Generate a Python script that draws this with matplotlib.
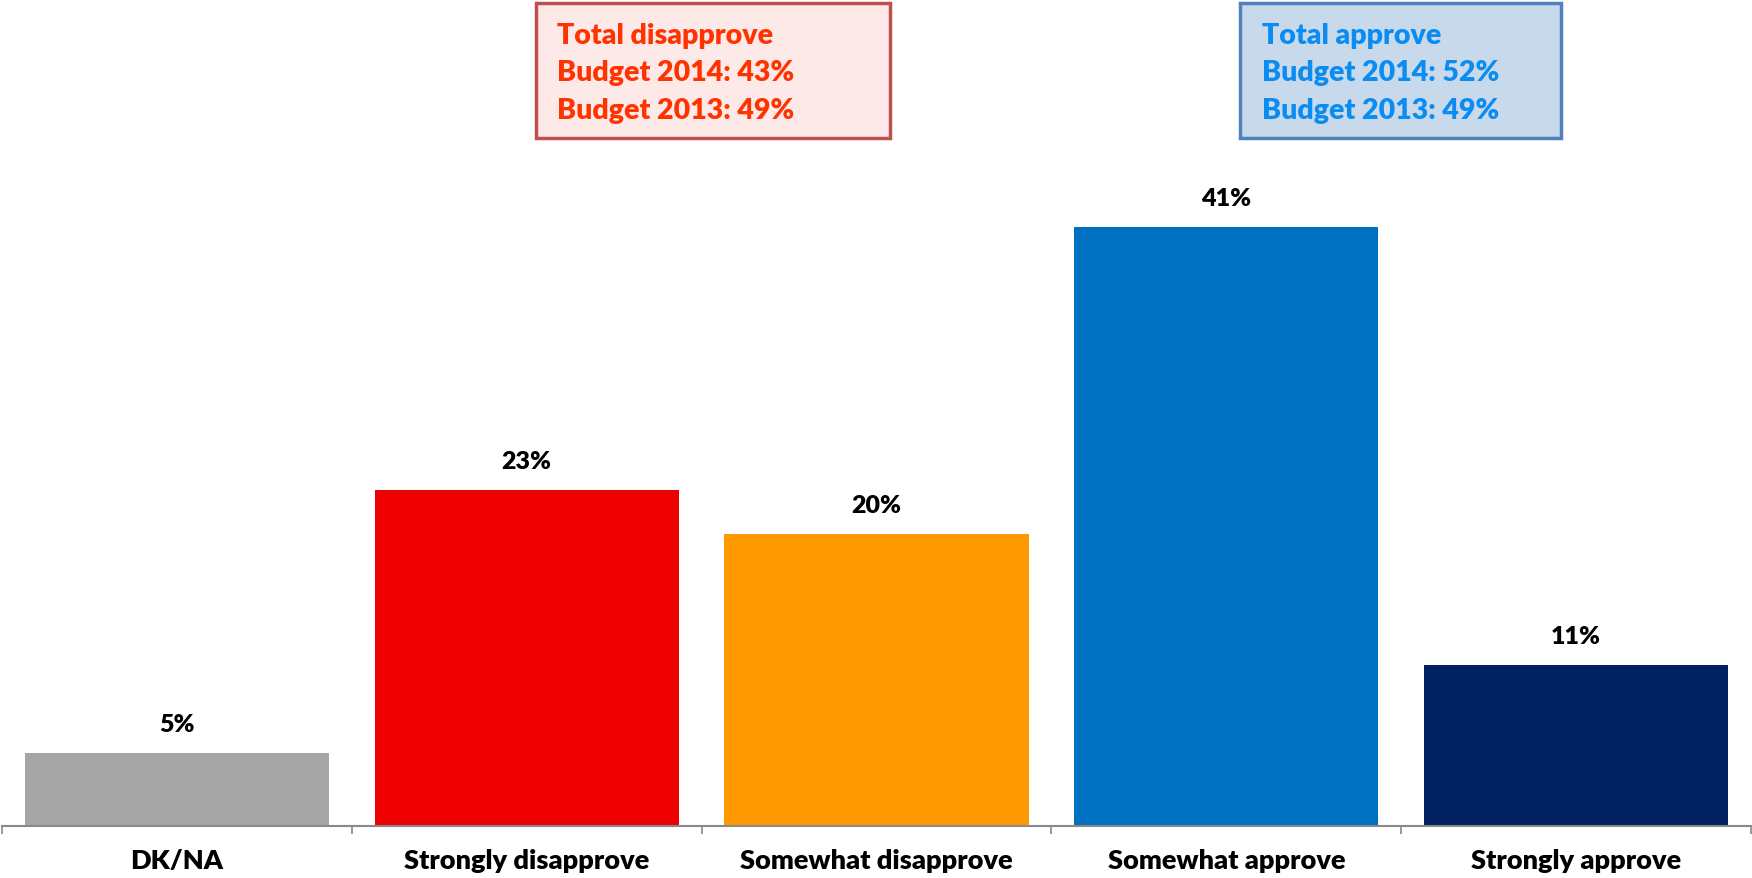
import matplotlib.pyplot as plt
from matplotlib.patches import Rectangle

# data
categories = ['DK/NA', 'Strongly disapprove', 'Somewhat disapprove', 'Somewhat approve', 'Strongly approve']
values = [5, 23, 20, 41, 11]
colors = ['#A6A6A6', '#EE0000', '#FF9900', '#0070C0', '#002060']

disapprove_lines = ['Total disapprove', 'Budget 2014: 43%', 'Budget 2013: 49%']
approve_lines = ['Total approve', 'Budget 2014: 52%', 'Budget 2013: 49%']

plt.rcParams['font.family'] = ['Lato', 'DejaVu Sans']

W, H = 1752, 879
fig = plt.figure(figsize=(W / 100, H / 100), dpi=100)

# axes in pixel coordinates (from top-left)
ax_left, ax_right, ax_bottom = 2, 1751, 827
ymax = 45
px_per_unit = 14.6
ax_top = ax_bottom - ymax * px_per_unit
ax = fig.add_axes([ax_left / W, (H - ax_bottom) / H, (ax_right - ax_left) / W, (ax_bottom - ax_top) / H])

x = range(len(categories))
bars = ax.bar(x, values, width=0.87, color=colors)
ax.set_xlim(-0.5, len(categories) - 0.5)
ax.set_ylim(0, ymax)

for b, v in zip(bars, values):
    ax.annotate(f'{v}%', (b.get_x() + b.get_width() / 2, v), xytext=(0, 13),
                textcoords='offset points', ha='center', va='bottom',
                fontsize=18, fontweight='heavy', color='black')

for s in ['top', 'right', 'left']:
    ax.spines[s].set_visible(False)
ax.spines['bottom'].set_color('#898989')
ax.spines['bottom'].set_linewidth(1.5)
ax.set_yticks([])

# category separators as ticks
ax.set_xticks([i - 0.5 for i in range(len(categories) + 1)], minor=False)
ax.set_xticklabels([])
ax.tick_params(axis='x', length=6, width=1.2, color='#898989')
ax.set_xticks(list(x), minor=True)
ax.set_xticklabels(categories, minor=True)
ax.tick_params(axis='x', which='minor', length=0, pad=16, labelsize=19.5)
for t in ax.get_xticklabels(minor=True):
    t.set_fontweight('heavy')


def add_box(x0, y0, x1, y1, face, edge, tcolor, tx, lines):
    fig.add_artist(Rectangle((x0 / W, 1 - y1 / H), (x1 - x0) / W, (y1 - y0) / H,
                             transform=fig.transFigure, facecolor=face,
                             edgecolor=edge, linewidth=2.5))
    for i, line in enumerate(lines):
        fig.text(tx / W, 1 - (36 + 37.5 * i) / H, line, ha='left', va='center',
                 fontsize=20.5, fontweight='heavy', color=tcolor)


add_box(536, 4, 890, 139, '#FDE9E7', '#C0504D', '#FF3300', 557, disapprove_lines)
add_box(1240, 4, 1561, 139, '#C9D9EC', '#4F81BD', '#0A8CF0', 1262, approve_lines)

fig.savefig('out.png', dpi=100)
